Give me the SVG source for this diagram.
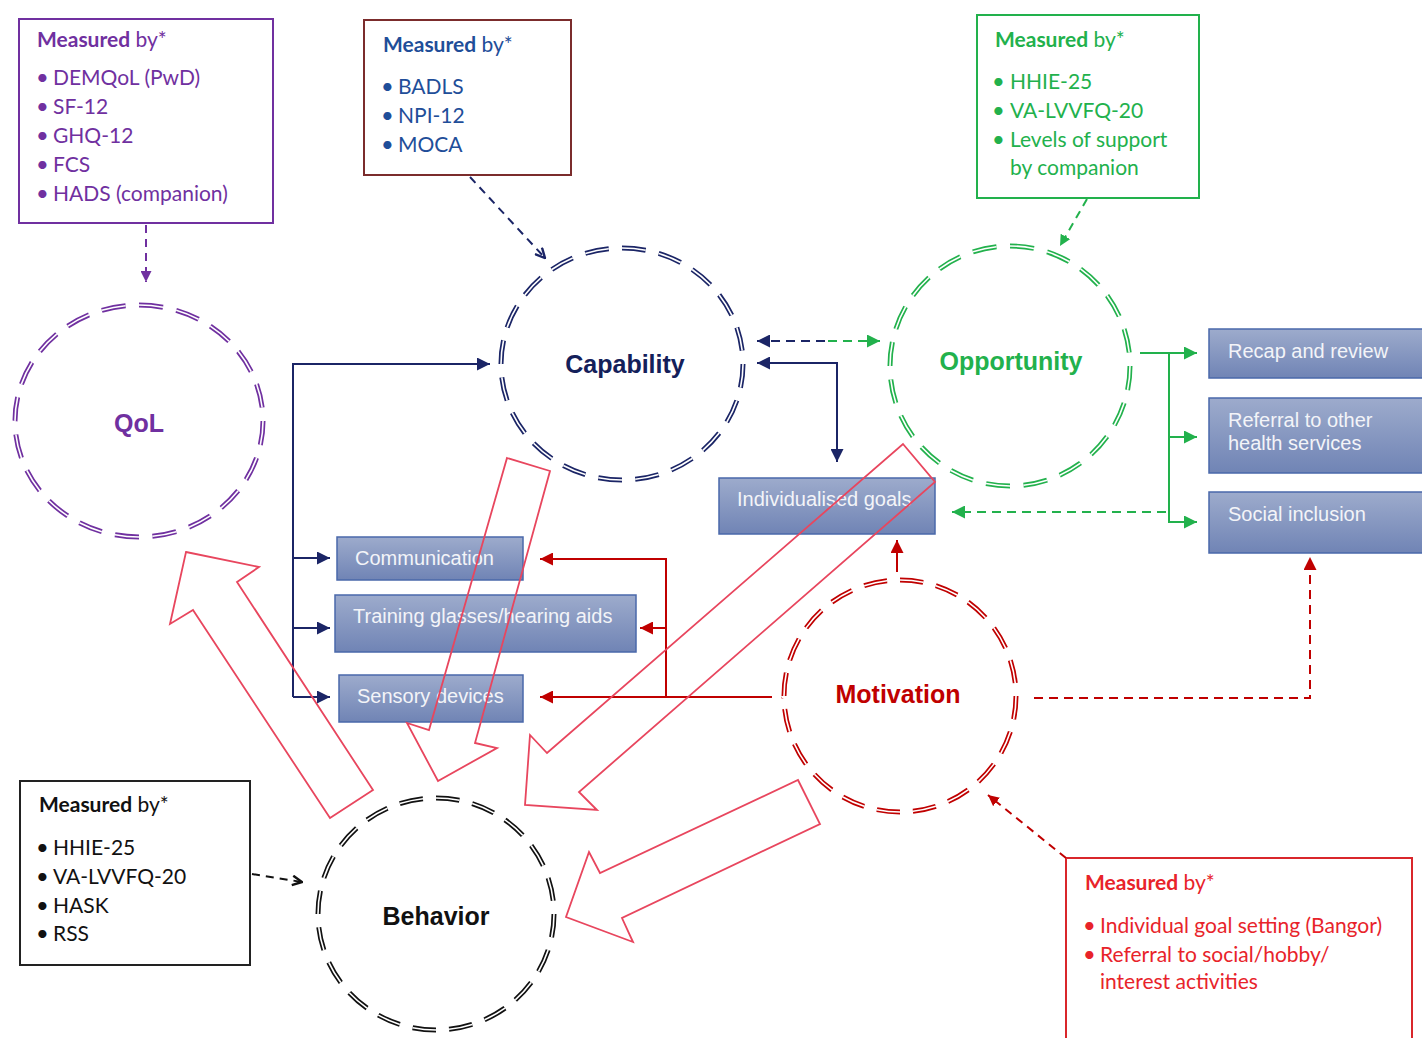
<svg xmlns="http://www.w3.org/2000/svg" width="1422" height="1038" viewBox="0 0 1422 1038">
<defs>
<linearGradient id="bg" x1="0" y1="0" x2="0" y2="1">
<stop offset="0" stop-color="#9DABCC"/>
<stop offset="1" stop-color="#7084B5"/>
</linearGradient>
<marker id="aNavy" viewBox="0 0 10 10" refX="10" refY="5" markerWidth="13" markerHeight="13" markerUnits="userSpaceOnUse" orient="auto-start-reverse"><path d="M0,0 L10,5 L0,10 z" fill="#1B2566"/></marker>
<marker id="aGreen" viewBox="0 0 10 10" refX="10" refY="5" markerWidth="13" markerHeight="13" markerUnits="userSpaceOnUse" orient="auto-start-reverse"><path d="M0,0 L10,5 L0,10 z" fill="#22B14C"/></marker>
<marker id="aRed" viewBox="0 0 10 10" refX="10" refY="5" markerWidth="13" markerHeight="13" markerUnits="userSpaceOnUse" orient="auto-start-reverse"><path d="M0,0 L10,5 L0,10 z" fill="#C00000"/></marker>
<marker id="aPurple" viewBox="0 0 10 10" refX="10" refY="5" markerWidth="11" markerHeight="11" markerUnits="userSpaceOnUse" orient="auto"><path d="M0,0 L10,5 L0,10 z" fill="#7030A0"/></marker>
<marker id="aNavyOpen" viewBox="0 0 10 10" refX="9" refY="5" markerWidth="12" markerHeight="12" markerUnits="userSpaceOnUse" orient="auto"><path d="M1,1 L9,5 L1,9" fill="none" stroke="#1B2566" stroke-width="2"/></marker>
<marker id="aBlackOpen" viewBox="0 0 10 10" refX="9" refY="5" markerWidth="12" markerHeight="12" markerUnits="userSpaceOnUse" orient="auto"><path d="M1,1 L9,5 L1,9" fill="none" stroke="#111" stroke-width="2"/></marker>
<marker id="aRedS" viewBox="0 0 10 10" refX="10" refY="5" markerWidth="11" markerHeight="11" markerUnits="userSpaceOnUse" orient="auto"><path d="M0,0 L10,5 L0,10 z" fill="#C00000"/></marker>
<marker id="aGreenS" viewBox="0 0 10 10" refX="10" refY="5" markerWidth="11" markerHeight="11" markerUnits="userSpaceOnUse" orient="auto"><path d="M0,0 L10,5 L0,10 z" fill="#22B14C"/></marker>
</defs>
<style>
.meas{font-family:Lato,"Open Sans","Liberation Sans",sans-serif;font-size:21px}
.meas .b{font-weight:bold}
.meas .u{font-size:22px}
.box{fill:#fff;stroke-width:2}
.circ{fill:none;stroke-width:5}
.circw{fill:none;stroke:#fff;stroke-width:1.6}
.dash{stroke-dasharray:3.2 1.8}
.clabel{font-family:"Liberation Sans",Arial,sans-serif;font-weight:bold;font-size:25px;text-anchor:middle}
.bbox{fill:url(#bg);stroke:#4A68AA;stroke-width:1.5}
.btxt{font-family:"Liberation Sans",Arial,sans-serif;font-size:20px;fill:#F3F4F8}
.ln{fill:none;stroke-width:2}
.big{fill:none;stroke:#E8465E;stroke-width:1.8;stroke-linejoin:miter}
</style>

<!-- Measured-by boxes -->
<g id="measure-qol" class="meas" fill="#7030A0">
<rect class="box" x="19" y="19" width="254" height="204" stroke="#7030A0"/>
<text x="37" y="47"><tspan class="b">Measured</tspan> by*</text>
<text><tspan class="u" x="36" y="85">•</tspan><tspan x="53">DEMQoL (PwD)</tspan></text>
<text><tspan class="u" x="36" y="114">•</tspan><tspan x="53">SF-12</tspan></text>
<text><tspan class="u" x="36" y="143">•</tspan><tspan x="53">GHQ-12</tspan></text>
<text><tspan class="u" x="36" y="172">•</tspan><tspan x="53">FCS</tspan></text>
<text><tspan class="u" x="36" y="201">•</tspan><tspan x="53">HADS (companion)</tspan></text>
</g>
<g id="measure-capability" class="meas" fill="#1F4E99">
<rect class="box" x="364" y="20" width="207" height="155" stroke="#7B2C2C"/>
<text x="383" y="52"><tspan class="b">Measured</tspan> by*</text>
<text><tspan class="u" x="381" y="94">•</tspan><tspan x="398">BADLS</tspan></text>
<text><tspan class="u" x="381" y="123">•</tspan><tspan x="398">NPI-12</tspan></text>
<text><tspan class="u" x="381" y="152">•</tspan><tspan x="398">MOCA</tspan></text>
</g>
<g id="measure-opportunity" class="meas" fill="#22B14C">
<rect class="box" x="977" y="15" width="222" height="183" stroke="#22B14C"/>
<text x="995" y="47"><tspan class="b">Measured</tspan> by*</text>
<text><tspan class="u" x="992" y="89">•</tspan><tspan x="1010">HHIE-25</tspan></text>
<text><tspan class="u" x="992" y="118">•</tspan><tspan x="1010">VA-LVVFQ-20</tspan></text>
<text><tspan class="u" x="992" y="147">•</tspan><tspan x="1010">Levels of support</tspan></text>
<text x="1010" y="175">by companion</text>
</g>
<g id="measure-behavior" class="meas" fill="#111">
<rect class="box" x="20" y="781" width="230" height="184" stroke="#222"/>
<text x="39" y="812"><tspan class="b">Measured</tspan> by*</text>
<text><tspan class="u" x="36" y="855">•</tspan><tspan x="53">HHIE-25</tspan></text>
<text><tspan class="u" x="36" y="884">•</tspan><tspan x="53">VA-LVVFQ-20</tspan></text>
<text><tspan class="u" x="36" y="913">•</tspan><tspan x="53">HASK</tspan></text>
<text><tspan class="u" x="36" y="941">•</tspan><tspan x="53">RSS</tspan></text>
</g>
<g id="measure-motivation" class="meas" fill="#E8232A">
<rect class="box" x="1066" y="858" width="346" height="200" stroke="#D9262B"/>
<text x="1085" y="890"><tspan class="b">Measured</tspan> by*</text>
<text><tspan class="u" x="1083" y="933">•</tspan><tspan x="1100">Individual goal setting (Bangor)</tspan></text>
<text><tspan class="u" x="1083" y="962">•</tspan><tspan x="1100">Referral to social/hobby/</tspan></text>
<text x="1100" y="989">interest activities</text>
</g>

<!-- Circles -->
<g id="qol">
<ellipse class="circ dash" cx="139" cy="421" rx="124" ry="116" stroke="#7030A0" pathLength="100"/>
<ellipse class="circw dash" cx="139" cy="421" rx="124" ry="116" pathLength="100"/>
<text class="clabel" x="139" y="432" fill="#7030A0">QoL</text>
</g>
<g id="capability">
<ellipse class="circ dash" cx="622" cy="364" rx="121" ry="116" stroke="#1B2566" pathLength="100"/>
<ellipse class="circw dash" cx="622" cy="364" rx="121" ry="116" pathLength="100"/>
<text class="clabel" x="625" y="373" fill="#14205A">Capability</text>
</g>
<g id="opportunity">
<ellipse class="circ dash" cx="1010" cy="366" rx="120" ry="120" stroke="#22B14C" pathLength="100"/>
<ellipse class="circw dash" cx="1010" cy="366" rx="120" ry="120" pathLength="100"/>
<text class="clabel" x="1011" y="370" fill="#22B14C">Opportunity</text>
</g>
<g id="motivation">
<ellipse class="circ dash" cx="900" cy="696" rx="116" ry="116" stroke="#C00000" pathLength="100"/>
<ellipse class="circw dash" cx="900" cy="696" rx="116" ry="116" pathLength="100"/>
<text class="clabel" x="898" y="703" fill="#C00000">Motivation</text>
</g>
<g id="behavior">
<ellipse class="circ dash" cx="436" cy="914" rx="118" ry="116" stroke="#111" pathLength="100"/>
<ellipse class="circw dash" cx="436" cy="914" rx="118" ry="116" pathLength="100"/>
<text class="clabel" x="436" y="925" fill="#111">Behavior</text>
</g>

<!-- Blue boxes -->
<g id="goals"><rect class="bbox" x="719" y="478" width="216" height="56"/><text class="btxt" x="737" y="506">Individualised goals</text></g>
<g id="communication"><rect class="bbox" x="337" y="537" width="186" height="43"/><text class="btxt" x="355" y="565">Communication</text></g>
<g id="training"><rect class="bbox" x="335" y="595" width="301" height="57"/><text class="btxt" x="353" y="623">Training glasses/hearing aids</text></g>
<g id="sensory"><rect class="bbox" x="339" y="675" width="184" height="47"/><text class="btxt" x="357" y="703">Sensory devices</text></g>
<g id="recap"><rect class="bbox" x="1209" y="329" width="220" height="49"/><text class="btxt" x="1228" y="358">Recap and review</text></g>
<g id="referral"><rect class="bbox" x="1209" y="398" width="220" height="75"/><text class="btxt" x="1228" y="427">Referral to other</text><text class="btxt" x="1228" y="450">health services</text></g>
<g id="social"><rect class="bbox" x="1209" y="492" width="220" height="61"/><text class="btxt" x="1228" y="521">Social inclusion</text></g>

<!-- Connectors -->
<g id="connectors">
<path class="ln" stroke="#1B2566" d="M293,697 V364 H490" marker-end="url(#aNavy)"/>
<path class="ln" stroke="#1B2566" d="M293,558 H330" marker-end="url(#aNavy)"/>
<path class="ln" stroke="#1B2566" d="M293,628 H330" marker-end="url(#aNavy)"/>
<path class="ln" stroke="#1B2566" d="M293,697 H330" marker-end="url(#aNavy)"/>
<path class="ln" stroke="#1B2566" d="M757,363 H837 V462" marker-start="url(#aNavy)" marker-end="url(#aNavy)"/>
<path class="ln" stroke="#1B2566" stroke-dasharray="9 6" d="M825,341 H757" marker-end="url(#aNavy)"/>
<path class="ln" stroke="#22B14C" stroke-dasharray="9 6" d="M828,341 H880" marker-end="url(#aGreen)"/>
<path class="ln" stroke="#22B14C" d="M1140,353 H1197" marker-end="url(#aGreen)"/>
<path class="ln" stroke="#22B14C" d="M1169,353 V522 H1197" marker-end="url(#aGreen)"/>
<path class="ln" stroke="#22B14C" d="M1169,437 H1197" marker-end="url(#aGreen)"/>
<path class="ln" stroke="#22B14C" stroke-dasharray="9 6" d="M1166,512 H952" marker-end="url(#aGreen)"/>
<path class="ln" stroke="#C00000" d="M772,697 H540" marker-end="url(#aRed)"/>
<path class="ln" stroke="#C00000" d="M666,697 V559 H540" marker-end="url(#aRed)"/>
<path class="ln" stroke="#C00000" d="M666,628 H640" marker-end="url(#aRed)"/>
<path class="ln" stroke="#C00000" d="M897,572 V540" marker-end="url(#aRed)"/>
<path class="ln" stroke="#C00000" stroke-dasharray="9 6" d="M1034,698 H1310 V557" marker-end="url(#aRed)"/>
<path class="ln" stroke="#7030A0" stroke-dasharray="8 6" d="M146,225 V282" marker-end="url(#aPurple)"/>
<path class="ln" stroke="#1B2566" stroke-dasharray="8 6" d="M470,177 L545,258" marker-end="url(#aNavyOpen)"/>
<path class="ln" stroke="#22B14C" stroke-dasharray="8 6" d="M1087,199 L1060,246" marker-end="url(#aGreenS)"/>
<path class="ln" stroke="#111" stroke-dasharray="8 6" d="M252,874 L302,882" marker-end="url(#aBlackOpen)"/>
<path class="ln" stroke="#C00000" stroke-dasharray="8 6" d="M1066,858 L988,795" marker-end="url(#aRedS)"/>
<polygon class="big" points="186,552 259,567 237,582 373,790 330,818 193,610 170,624"/>
<polygon class="big" points="507,458 550,471 475,743 497,748 438,781 407,723 429,730"/>
<polygon class="big" points="903,444 935,482 579,792 597,810 525,805 530,735 547,753"/>
<polygon class="big" points="798,780 820,824 622,918 633,942 566,917 589,852 600,873"/>
</g>
</svg>
